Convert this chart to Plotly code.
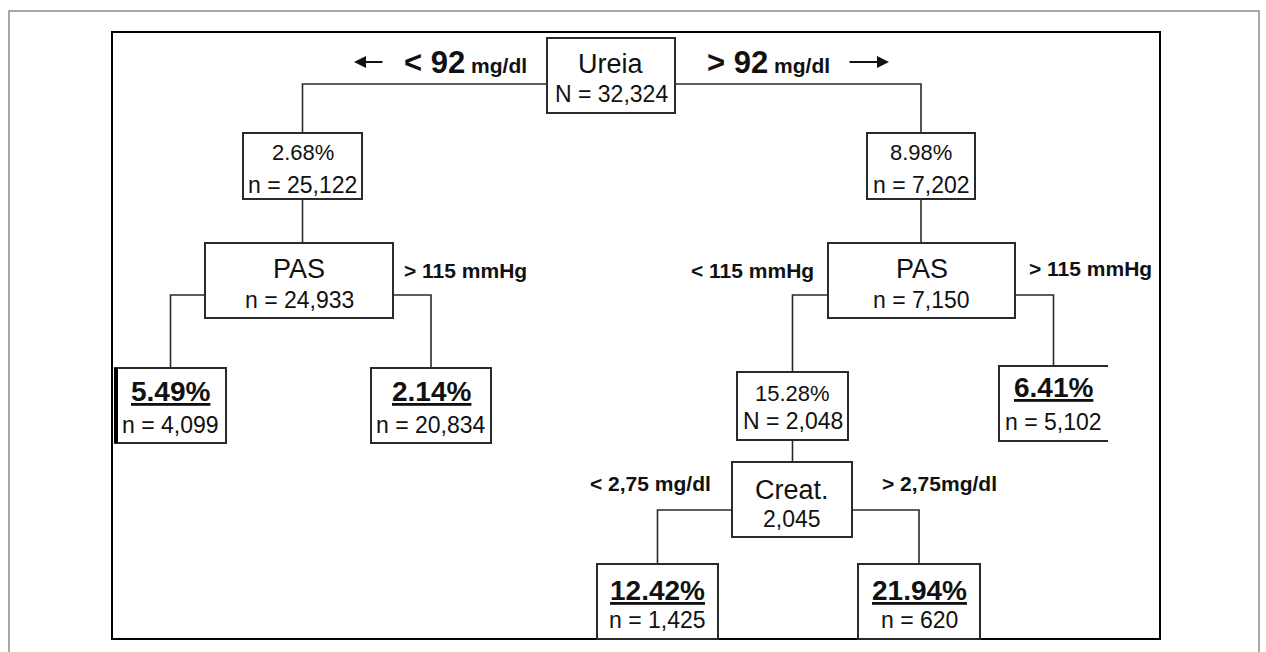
import plotly.graph_objects as go

# ---------------- data ----------------
node_title = ["Ureia", None, None, "PAS", "PAS", None, None, None, None, "Creat.", None, None]
node_pct = [None, 2.68, 8.98, None, None, 5.49, 2.14, 15.28, 6.41, None, 12.42, 21.94]
node_n = [32324, 25122, 7202, 24933, 7150, 4099, 20834, 2048, 5102, 2045, 1425, 620]
node_n_prefix = ["N = ", "n = ", "n = ", "n = ", "n = ", "n = ", "n = ", "N = ", "n = ", "", "n = ", "n = "]
node_parent = [None, 0, 0, 1, 2, 3, 3, 4, 4, 7, 9, 9]
node_terminal = [False, False, False, False, False, True, True, False, True, False, True, True]

split_value = ["< 92", "> 92"]
split_unit = "mg/dl"
split_text = ["> 115 mmHg", "< 115 mmHg", "> 115 mmHg", "< 2,75 mg/dl", "> 2,75mg/dl"]

# ---------------- layout (pixel positions) ----------------
W, H = 1266, 652
box_x0 = [547, 243, 867, 205, 828, 115, 371, 737, 999, 732, 597, 858]
box_x1 = [675, 362, 975, 393, 1015, 226, 491, 848, 1108, 852, 718, 980]
box_y0 = [38, 133, 133, 243, 243, 368, 368, 372, 366, 462, 564, 564]
box_y1 = [113, 199, 199, 318, 318, 443, 443, 440, 441, 537, 639, 639]
line1_frac = [0.35, 0.29, 0.29, 0.35, 0.35, 0.31, 0.31, 0.32, 0.29, 0.37, 0.35, 0.35]
line2_frac = [0.74, 0.79, 0.79, 0.76, 0.76, 0.76, 0.76, 0.72, 0.75, 0.76, 0.75, 0.75]
conn_y = {0: 84, 3: 295, 4: 295, 9: 510}
open_right = [False] * 12
open_right[8] = True
thick_left = [False] * 12
thick_left[5] = True

FONT = "Liberation Sans, Arial, Helvetica, sans-serif"
INK = "#111111"
LINE = "#2a2a2a"
TITLE_SIZE = 27
PCT_SIZE = 22
LEAF_PCT_SIZE = 28
N_SIZE = 23
LABEL_SIZE = 21

fig = go.Figure()

# connectors
cx, cy = [], []
for i, p in enumerate(node_parent):
    if p is None:
        continue
    child_cx = (box_x0[i] + box_x1[i]) / 2
    if p in conn_y:
        yc = conn_y[p]
        side = box_x0[p] if child_cx < (box_x0[p] + box_x1[p]) / 2 else box_x1[p]
        cx += [side, child_cx, child_cx, None]
        cy += [yc, yc, box_y0[i], None]
    else:
        pcx = (box_x0[p] + box_x1[p]) / 2
        cx += [pcx, pcx, None]
        cy += [box_y1[p], box_y0[i], None]
fig.add_trace(go.Scatter(x=cx, y=cy, mode="lines", line=dict(color=LINE, width=1.6),
                         hoverinfo="skip", showlegend=False))

shapes = []
# outer grey frame (open at bottom)
shapes.append(dict(type="path", path=f"M 9,{H} L 9,11 L 1259,11 L 1259,{H}",
                   line=dict(color="#8c8c8c", width=1.5), xref="x", yref="y"))
# inner black frame
shapes.append(dict(type="rect", x0=112, x1=1160, y0=32, y1=639,
                   line=dict(color="#000000", width=2), xref="x", yref="y", layer="below"))

annotations = []
for i in range(len(node_n)):
    x0, x1, y0, y1 = box_x0[i], box_x1[i], box_y0[i], box_y1[i]
    if open_right[i]:
        shapes.append(dict(type="path", path=f"M {x1},{y0} L {x0},{y0} L {x0},{y1} L {x1},{y1}",
                           line=dict(color=LINE, width=2), xref="x", yref="y"))
    else:
        shapes.append(dict(type="rect", x0=x0, x1=x1, y0=y0, y1=y1,
                           line=dict(color=LINE, width=2), fillcolor="white",
                           xref="x", yref="y"))
    if thick_left[i]:
        shapes.append(dict(type="line", x0=x0 + 1, x1=x0 + 1, y0=y0, y1=y1,
                           line=dict(color="#000", width=4), xref="x", yref="y"))
    xc = (x0 + x1) / 2
    h = y1 - y0
    if node_title[i] is not None:
        t1, s1 = node_title[i], TITLE_SIZE
    elif node_terminal[i]:
        t1, s1 = f"<b><u>{node_pct[i]:.2f}%</u></b>", LEAF_PCT_SIZE
    else:
        t1, s1 = f"{node_pct[i]:.2f}%", PCT_SIZE
    annotations.append(dict(x=xc, y=y0 + line1_frac[i] * h, text=t1, showarrow=False,
                            xanchor="center", yanchor="middle",
                            font=dict(size=s1, color=INK, family=FONT)))
    t2 = f"{node_n_prefix[i]}{node_n[i]:,}"
    annotations.append(dict(x=xc, y=y0 + line2_frac[i] * h, text=t2, showarrow=False,
                            xanchor="center", yanchor="middle",
                            font=dict(size=N_SIZE, color=INK, family=FONT)))

# root split labels
root_lab_x = [529, 705]
root_lab_anchor = ["right", "left"]
for v, x, a in zip(split_value, root_lab_x, root_lab_anchor):
    v_html = v.replace("<", "&lt;").replace(">", "&gt;")
    annotations.append(dict(
        x=x, y=62, xanchor=a, yanchor="middle", showarrow=False,
        text=f"<b><span style='font-size:31px'>{v_html}</span> "
             f"<span style='font-size:21px'>{split_unit}</span></b>",
        font=dict(size=21, color=INK, family=FONT)))
# arrows
arrow_head = [354, 889]
arrow_tail = [384, 848]
for hx, tx in zip(arrow_head, arrow_tail):
    annotations.append(dict(x=hx, y=62, ax=tx, ay=62, axref="x", ayref="y",
                            xref="x", yref="y", text="", showarrow=True,
                            arrowhead=2, arrowsize=1.2, arrowwidth=2, arrowcolor=INK))

# other split labels
split_x = [402, 816, 1027, 713, 880]
split_y = [270, 270, 268, 483, 483]
split_anchor = ["left", "right", "left", "right", "left"]
for t, x, y, a in zip(split_text, split_x, split_y, split_anchor):
    t_html = t.replace("<", "&lt;").replace(">", "&gt;")
    annotations.append(dict(x=x, y=y, xanchor=a, yanchor="middle", showarrow=False,
                            text=f"<b>{t_html}</b>",
                            font=dict(size=LABEL_SIZE, color=INK, family=FONT)))

fig.update_layout(
    width=W, height=H, autosize=False,
    margin=dict(l=0, r=0, t=0, b=0, pad=0),
    paper_bgcolor="white", plot_bgcolor="white",
    xaxis=dict(range=[0, W], visible=False, fixedrange=True),
    yaxis=dict(range=[H, 0], visible=False, fixedrange=True),
    shapes=shapes, annotations=annotations, font=dict(family=FONT),
    showlegend=False,
)

fig.write_html("out.html", config={"displayModeBar": False},
               post_script="document.body.style.margin='0';document.body.style.overflow='hidden';")
